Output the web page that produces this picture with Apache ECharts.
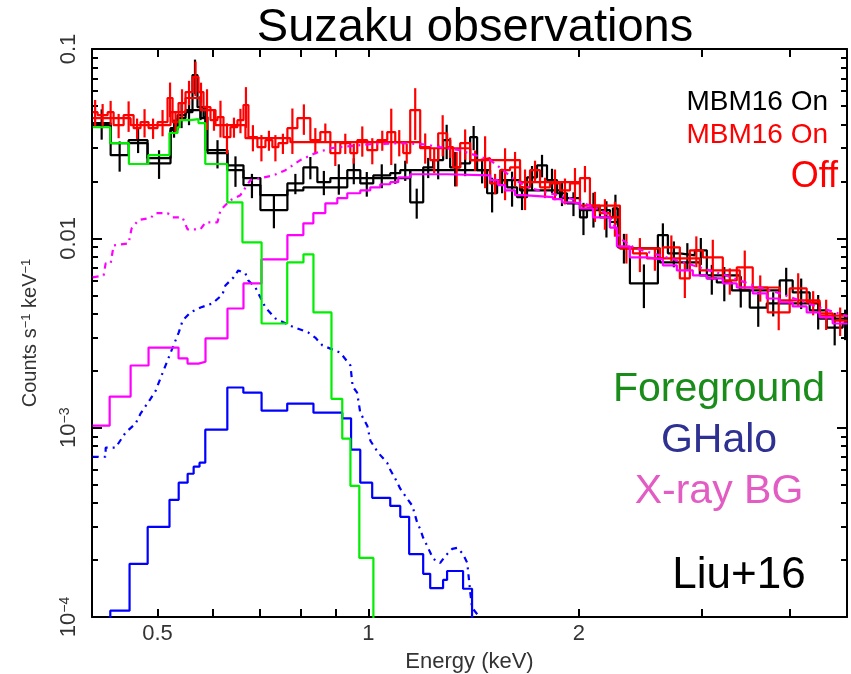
<!DOCTYPE html>
<html><head><meta charset="utf-8">
<script src="https://cdn.jsdelivr.net/npm/echarts@6/dist/echarts.min.js"></script>
<style>html,body{margin:0;padding:0;background:#fff}#c{width:851px;height:674px}</style>
</head><body><div id="c"></div>
<script>
// ---------- axes ----------
const xRange = [0.403, 4.83];
const yRange = [0.0001, 0.1];
const xTickMajor = [0.5, 1, 2];
const xTickLabels = ['0.5', '1', '2'];
const xTickMinor = [0.6, 0.7, 0.8, 0.9, 3, 4];
const yTickMajor = [0.0001, 0.001, 0.01, 0.1];
const yLabelBase = ['10', '10', '0.01', '0.1'];
const yLabelExp = ['\u22124', '\u22123', '', ''];
const yTickMinor = [0.0002,0.0003,0.0004,0.0005,0.0006,0.0007,0.0008,0.0009,
  0.002,0.003,0.004,0.005,0.006,0.007,0.008,0.009,
  0.02,0.03,0.04,0.05,0.06,0.07,0.08,0.09];

// ---------- MBM16 On (black) data ----------
const onEdges = [0.4039,0.4285,0.4546,0.4838,0.5218,0.5340,0.5482,0.5609,0.5702,0.5816,0.5893,0.6293,0.6633,0.7013,0.7664,0.8077,0.8458,0.8827,0.9333,0.9741,1.0166,1.0750,1.1109,1.1480,1.1981,1.2381,1.2794,1.3092,1.3529,1.3981,1.4306,1.4784,1.5277,1.5787,1.6314,1.6859,1.7422,1.8004,1.8605,1.9226,2.0065,2.0532,2.1428,2.2363,2.2734,2.3648,2.5927,2.6793,2.7871,2.9279,3.0456,3.1473,3.3063,3.5076,3.7091,3.8709,4.0397,4.2719,4.5177,4.7619,4.84];
const onVal = [0.0406,0.0275,0.0330,0.0249,0.0382,0.0447,0.0464,0.0728,0.0493,0.0437,0.0282,0.0229,0.0191,0.0141,0.0195,0.0237,0.0198,0.0208,0.0229,0.0195,0.0215,0.0221,0.0229,0.0155,0.0237,0.0259,0.0330,0.0237,0.0249,0.0342,0.0229,0.0173,0.0203,0.0186,0.0165,0.0210,0.0243,0.0203,0.0173,0.0153,0.0129,0.0144,0.0129,0.0144,0.00896,0.00578,0.0104,0.00833,0.00813,0.00864,0.00614,0.00585,0.00531,0.00431,0.00453,0.00599,0.00518,0.00416,0.00338,0.00355];
const onErr = [0.0074,0.0050,0.0048,0.0043,0.0042,0.0065,0.0068,0.0151,0.0072,0.0064,0.0048,0.0042,0.0028,0.0028,0.0024,0.0032,0.0029,0.0038,0.0036,0.0029,0.0031,0.0027,0.0028,0.0028,0.0029,0.0054,0.0068,0.0049,0.0036,0.0050,0.0034,0.0036,0.0030,0.0039,0.0024,0.0031,0.0033,0.0030,0.0025,0.0022,0.0025,0.0030,0.0028,0.0026,0.0016,0.0015,0.0016,0.0013,0.0013,0.0014,0.0011,0.0012,0.0010,0.0009,0.00066,0.0010,0.00095,0.00086,0.00066,0.00065];
const onModelEdges = [0.4039,0.4285,0.4838,0.5218,0.5340,0.5482,0.5759,0.5854,0.6293,0.6633,0.7013,0.7664,0.8077,0.9333,1.1480,1.4930,1.6476,1.8789,2.0065,2.2143,2.2884,2.6098,2.9763,3.3944,3.8709,4.4144,4.84];
const onModelVal = [0.0396,0.0318,0.0265,0.0373,0.0431,0.0476,0.0431,0.0292,0.0243,0.0208,0.0169,0.0179,0.0186,0.0208,0.0229,0.0203,0.0179,0.0163,0.0141,0.0122,0.00886,0.00746,0.00637,0.00531,0.00453,0.00377];

// ---------- Off (red) data ----------
const offEdges = [0.4039,0.4105,0.4243,0.4327,0.4472,0.4621,0.4728,0.4854,0.5000,0.5167,0.5253,0.5357,0.5482,0.5609,0.5721,0.5816,0.5951,0.6089,0.6211,0.6355,0.6503,0.6633,0.6742,0.6944,0.7130,0.7295,0.7441,0.7664,0.7920,0.8265,0.8541,0.8827,0.9121,0.9426,0.9645,0.9968,1.0301,1.0645,1.0928,1.1219,1.1480,1.1863,1.2260,1.2586,1.2963,1.3221,1.3529,1.3981,1.4448,1.4930,1.5428,1.5943,1.6476,1.7026,1.7595,1.8182,1.8789,1.9417,2.0065,2.0735,2.1428,2.2143,2.2884,2.3882,2.5007,2.6357,2.7871,2.8801,3.0058,3.2100,3.3611,3.5424,3.7213,4.0000,4.2300,4.4144,4.6076,4.84];
const offVal = [0.0464,0.0447,0.0464,0.0396,0.0447,0.0382,0.0411,0.0382,0.0411,0.0551,
  0.0411,0.0518,0.0592,0.0711,0.0592,0.0493,0.0421,0.0437,0.0342,0.0387,
  0.0421,0.0506,0.0342,0.0303,0.0330,0.0303,0.0318,0.0382,0.0431,0.0330,
  0.0364,0.0282,0.0318,0.0282,0.0330,0.0292,0.0330,0.0364,0.0322,0.0282,
  0.0476,0.0303,0.0259,0.0359,0.0303,0.0237,0.0318,0.0259,0.0265,0.0195,
  0.0229,0.0237,0.0186,0.0229,0.0186,0.0195,0.0179,0.0195,0.0208,0.0149,
  0.0136,0.0129,0.00896,0.00833,0.00784,0.00896,0.00614,0.00864,0.00793,0.00599,
  0.00702,0.00550,0.00406,0.00544,0.00459,0.00401,0.00368];
const offErr = [0.0074,0.0065,0.0068,0.0058,0.0082,0.0047,0.0070,0.0047,0.0065,0.0114,
  0.0050,0.0095,0.0087,0.0147,0.0072,0.0120,0.0051,0.0096,0.0063,0.0047,
  0.0062,0.0123,0.0054,0.0048,0.0040,0.0048,0.0039,0.0103,0.0079,0.0052,
  0.0040,0.0041,0.0039,0.0034,0.0060,0.0046,0.0040,0.0120,0.0051,0.0034,
  0.0145,0.0055,0.0038,0.0088,0.0037,0.0049,0.0058,0.0032,0.0081,0.0024,
  0.0070,0.0049,0.0045,0.0028,0.0023,0.0036,0.0028,0.0040,0.0033,0.0027,
  0.0025,0.0027,0.0016,0.0017,0.0011,0.0014,0.0013,0.0016,0.0019,0.00095,
  0.0016,0.00087,0.00079,0.0011,0.00067,0.00073,0.00063];
const offModelEdges = [0.4039,0.4576,0.5218,0.5482,0.5759,0.6050,0.6676,0.7740,1.1863,1.3981,1.6476,2.0065,2.2884,2.6098,2.9763,3.3944,3.8709,4.4144,4.84];
const offModelVal = [0.0431,0.0396,0.0464,0.0551,0.0476,0.0396,0.0338,0.0322,0.0299,0.0259,0.0198,0.0149,0.00886,0.00784,0.00677,0.00550,0.00470,0.00391];

// ---------- model components ----------
const fgEdges = [0.404,0.428,0.455,0.485,0.520,0.534,0.538,0.557,0.572,0.585,0.629,0.661,0.704,0.766,0.808,0.835,0.886,0.918,0.943,0.971,1.017,1.06];
const fgVal = [0.0386,0.0318,0.0247,0.0275,0.0360,0.0386,0.0421,0.0426,0.0406,0.0247,0.0155,0.00953,0.00355,0.00746,0.00823,0.00406,0.00142,0.000875,0.000493,0.000205,0.00003];

const ghaloEdges = [0.404,0.428,0.456,0.484,0.520,0.536,0.552,0.563,0.574,0.585,0.629,0.663,0.704,0.766,0.835,0.918,0.945,0.974,1.013,1.075,1.111,1.144,1.198,1.226,1.279,1.296,1.366,1.407,1.45];
const ghaloVal = [0.00005,1.08e-4,1.91e-4,2.99e-4,4.16e-4,5.12e-4,5.71e-4,6.22e-4,6.53e-4,9.76e-4,1.63e-3,1.53e-3,1.23e-3,1.34e-3,1.20e-3,1.12e-3,7.65e-4,5.12e-4,4.26e-4,3.86e-4,3.38e-4,2.15e-4,1.69e-4,1.42e-4,1.57e-4,1.75e-4,1.41e-4,0.00003];

const ghaloOffE = [0.404,0.4215,0.4215,0.4355,0.450,0.465,0.473,0.4885,0.497,0.502,0.518,0.536,0.543,0.557,0.576,0.599,0.619,0.625,0.642,0.652,0.6675,0.674,0.690,0.713,0.737,0.779,0.821,0.840,0.860,0.912,0.943,0.950,0.964,0.974,0.997,1.007,1.033,1.064,1.075,1.093,1.111,1.137,1.156,1.175,1.186,1.198,1.214,1.238,1.267,1.288,1.318,1.340,1.366,1.385,1.398,1.407,1.435,1.45];
const ghaloOffVal = [7.02e-4,7.02e-4,7.84e-4,7.84e-4,9.41e-4,1.05e-3,1.19e-3,1.42e-3,1.57e-3,1.73e-3,2.32e-3,3.18e-3,3.68e-3,4.06e-3,4.31e-3,4.53e-3,5.05e-3,5.64e-3,6.22e-3,6.77e-3,6.53e-3,5.99e-3,5.50e-3,4.31e-3,3.77e-3,3.42e-3,3.18e-3,2.99e-3,2.72e-3,2.49e-3,2.13e-3,1.65e-3,1.53e-3,1.20e-3,1.02e-3,8.53e-4,7.37e-4,6.53e-4,5.99e-4,5.37e-4,4.76e-4,4.21e-4,3.87e-4,3.14e-4,2.92e-4,2.62e-4,2.37e-4,2.03e-4,1.93e-4,2.10e-4,2.29e-4,2.32e-4,2.15e-4,1.93e-4,1.37e-4,1.12e-4,1.02e-4,5e-5];

const cxbEdges = [0.4039,0.4271,0.4576,0.4854,0.5357,0.5518,0.5721,0.5854,0.6293,0.6633,0.7037,0.7664,0.8077,0.8347,0.8683,0.9032,0.9333,0.9741,1.0066,1.0403,1.0750,1.1036,1.1480,1.2963,1.4930,1.5328,1.5684,1.6208,1.6640,1.8362,1.8913,1.9609,2.0065,2.0940,2.2143,2.2659,2.3648,2.5007,2.6357,2.7597,2.9087,3.0456,3.2100,3.3611,3.5424,3.7091,3.8709,4.0397,4.2300,4.4144,4.6076,4.84];
const cxbVal = [1.025e-3,1.459e-3,2.13e-3,2.65e-3,2.32e-3,2.18e-3,2.23e-3,2.96e-3,4.26e-3,5.78e-3,7.74e-3,0.0104,0.0120,0.0136,0.0153,0.0163,0.0173,0.0179,0.0186,0.0193,0.0198,0.0210,0.0218,0.0215,0.0203,0.0191,0.0179,0.0169,0.0165,0.0161,0.0155,0.0153,0.0144,0.0129,0.0114,0.00907,0.00793,0.00774,0.00720,0.00677,0.00637,0.00614,0.00578,0.00550,0.00512,0.00481,0.00459,0.00437,0.00406,0.00382,0.00355];

const cxbOffE = [0.4039,0.4187,0.4215,0.4285,0.4327,0.4546,0.4591,0.4697,0.4886,0.4967,0.5167,0.5253,0.5428,0.5518,0.5759,0.5854,0.6089,0.6150,0.6355,0.6567,0.6786,0.7320,0.7614,0.7998,0.8403,0.8827,0.9426,1.0066,1.1109,1.1981,1.2668,1.3529,1.4212,1.4930,1.5277,1.5684,1.6208,1.7026,1.8182,1.9417,2.0735,2.1782,2.2363,2.2884,2.4042,2.6098,2.7871,2.9763,3.1787,3.3944,3.6248,3.8709,4.1337,4.4144,4.84];
const cxbOffVal = [6.22e-3,6.37e-3,7.37e-3,7.37e-3,9.18e-3,9.41e-3,1.129e-2,0.0125,0.0128,0.0136,0.0136,0.0129,0.0129,0.01116,0.01116,0.01215,0.01215,0.0141,0.0159,0.0169,0.0203,0.0215,0.0229,0.0259,0.0282,0.0299,0.0307,0.0314,0.0318,0.0314,0.0303,0.0292,0.0275,0.0259,0.0243,0.0224,0.0203,0.0184,0.0173,0.0163,0.0149,0.0137,0.01215,0.0100,0.00886,0.00813,0.00756,0.00702,0.00653,0.00599,0.00550,0.00512,0.00470,0.00431,0.00387];

// ---------- helpers ----------
const FONT = 'Liberation Sans, Arial, Helvetica, sans-serif';
function stepData(edges, vals) {
  const d = vals.map((v, i) => [edges[i], v]);
  d.push([edges[edges.length - 1], vals[vals.length - 1]]);
  return d;
}
function pairs(xs, ys) { return xs.map((x, i) => [x, ys[i]]); }
function errData(edges, vals, errs) { return vals.map((v, i) => [edges[i], edges[i + 1], v, errs[i]]); }
function findIdx(arr, v) {
  for (let i = 0; i < arr.length; i++) if (Math.abs(Math.log(v / arr[i])) < 1e-6) return i;
  return -1;
}
function errRender(color) {
  return function (params, api) {
    const lo = api.value(0), hi = api.value(1), v = api.value(2), e = api.value(3);
    const pL = api.coord([lo, v]), pR = api.coord([hi, v]);
    const xm = (pL[0] + pR[0]) / 2;
    const top = api.coord([lo, v + e])[1];
    const bot = api.coord([lo, Math.max(v - e, 1e-7)])[1];
    return { type: 'line', shape: { x1: xm, y1: top, x2: xm, y2: bot },
      style: { stroke: color, lineWidth: 2.2 } };
  };
}
function stepSeries(name, data, color, z, dash) {
  return { name, type: 'line', step: 'end', data, showSymbol: false, symbol: 'none',
    xAxisIndex: 0, yAxisIndex: 0, clip: true, z,
    lineStyle: { color, width: 2.2, type: dash || 'solid' }, animation: false };
}
function errSeries(name, data, color, z) {
  return { name, type: 'custom', data, renderItem: errRender(color), clip: true,
    xAxisIndex: 0, yAxisIndex: 0, encode: { x: [0, 1], y: [2] }, z, animation: false };
}

const axisLineStyle = { color: '#000', width: 2 };
function xAxisCfg(pos, withLabels) {
  return {
    type: 'log', logBase: 10, min: xRange[0], max: xRange[1], position: pos,
    axisLine: { show: true, onZero: false, lineStyle: axisLineStyle },
    axisTick: { show: true, inside: true, length: 8, customValues: xTickMajor.concat(xTickMinor),
      lineStyle: { color: '#000', width: 2 } },
    axisLabel: withLabels ? { show: true, customValues: xTickMajor, margin: 6, fontSize: 22,
      color: '#333', fontFamily: FONT,
      formatter: v => { const i = findIdx(xTickMajor, v); return i >= 0 ? xTickLabels[i] : ''; } } : { show: false },
    splitLine: { show: false }, minorTick: { show: false }, minorSplitLine: { show: false },
    name: withLabels ? 'Energy (keV)' : '', nameLocation: 'middle', nameGap: 34,
    nameTextStyle: { fontSize: 22, color: '#333', fontFamily: FONT }
  };
}
function yAxisCfg(pos, ticks, len, withLabels, showLine) {
  const cfg = {
    type: 'log', logBase: 10, min: yRange[0], max: yRange[1], position: pos,
    axisLine: { show: showLine, onZero: false, lineStyle: axisLineStyle },
    axisTick: { show: true, inside: true, length: len, customValues: ticks,
      lineStyle: { color: '#000', width: 2 } },
    axisLabel: { show: false },
    splitLine: { show: false }, minorTick: { show: false }, minorSplitLine: { show: false }
  };
  if (withLabels) {
    cfg.axisLabel = {
      show: true, customValues: yTickMajor, rotate: 90, margin: 12, color: '#333',
      fontFamily: FONT, fontSize: 22,
      formatter: v => {
        const i = findIdx(yTickMajor, v);
        if (i < 0) return '';
        return yLabelExp[i] ? '{b|' + yLabelBase[i] + '}{e|' + yLabelExp[i] + '}' : '{b|' + yLabelBase[i] + '}';
      },
      rich: {
        b: { fontSize: 22, fontFamily: FONT, color: '#333' },
        e: { fontSize: 14, fontFamily: FONT, color: '#333', verticalAlign: 'top' }
      }
    };
    cfg.name = '{n|Counts s}{s|\u22121}{n| keV}{s|\u22121}';
    cfg.nameLocation = 'middle';
    cfg.nameGap = 52;
    cfg.nameTextStyle = {
      color: '#333', fontFamily: FONT,
      rich: {
        n: { fontSize: 20, fontFamily: FONT, color: '#333' },
        s: { fontSize: 13, fontFamily: FONT, color: '#333', verticalAlign: 'top' }
      }
    };
  }
  return cfg;
}

const chart = echarts.init(document.getElementById('c'), null, { renderer: 'canvas' });
chart.setOption({
  animation: false,
  backgroundColor: '#fff',
  grid: { left: 92, right: 4, top: 49, bottom: 57, containLabel: false, outerBoundsMode: 'none' },
  xAxis: [xAxisCfg('bottom', true), xAxisCfg('top', false)],
  yAxis: [
    yAxisCfg('left', yTickMajor, 10, true, true),
    yAxisCfg('left', yTickMinor, 6, false, false),
    yAxisCfg('right', yTickMajor, 10, false, true),
    yAxisCfg('right', yTickMinor, 6, false, false)
  ],
  series: [
    stepSeries('On model', stepData(onModelEdges, onModelVal), '#000', 2),
    stepSeries('On data', stepData(onEdges, onVal), '#000', 3),
    errSeries('On err', errData(onEdges, onVal, onErr), '#000', 3),
    stepSeries('Off model', stepData(offModelEdges, offModelVal), '#ff0000', 4),
    stepSeries('Off data', stepData(offEdges, offVal), '#ff0000', 5),
    errSeries('Off err', errData(offEdges, offVal, offErr), '#ff0000', 5),
    { name: 'X-ray BG off', type: 'line', data: pairs(cxbOffE, cxbOffVal), showSymbol: false, symbol: 'none', clip: true, z: 6,
      lineStyle: { color: '#ff00ff', width: 2.2, type: [6, 5, 2, 5] }, animation: false },
    { name: 'GHalo off', type: 'line', data: pairs(ghaloOffE, ghaloOffVal), showSymbol: false, symbol: 'none', clip: true, z: 6,
      lineStyle: { color: '#0000ff', width: 2.2, type: [6, 5, 2, 5] }, animation: false },
    stepSeries('X-ray BG', stepData(cxbEdges, cxbVal), '#ff00ff', 7),
    stepSeries('GHalo', stepData(ghaloEdges, ghaloVal), '#0000ff', 7),
    stepSeries('Foreground', stepData(fgEdges, fgVal), '#00ee00', 8)
  ],
  graphic: [
    { type: 'text', x: 475, y: 28, style: { text: 'Suzaku observations', fontSize: 47, fontFamily: FONT, fill: '#000', textAlign: 'center', textVerticalAlign: 'middle' } },
    { type: 'text', x: 828, y: 102, style: { text: 'MBM16 On', fontSize: 28, fontFamily: FONT, fill: '#000', textAlign: 'right', textVerticalAlign: 'middle' } },
    { type: 'text', x: 828, y: 135, style: { text: 'MBM16 On', fontSize: 28, fontFamily: FONT, fill: '#ff0000', textAlign: 'right', textVerticalAlign: 'middle' } },
    { type: 'text', x: 838, y: 177, style: { text: 'Off', fontSize: 36, fontFamily: FONT, fill: '#ff0000', textAlign: 'right', textVerticalAlign: 'middle' } },
    { type: 'text', x: 719, y: 390, style: { text: 'Foreground', fontSize: 41, fontFamily: FONT, fill: '#1a8c1a', textAlign: 'center', textVerticalAlign: 'middle' } },
    { type: 'text', x: 719, y: 441, style: { text: 'GHalo', fontSize: 41, fontFamily: FONT, fill: '#2e3192', textAlign: 'center', textVerticalAlign: 'middle' } },
    { type: 'text', x: 719, y: 492, style: { text: 'X-ray BG', fontSize: 41, fontFamily: FONT, fill: '#e25cc4', textAlign: 'center', textVerticalAlign: 'middle' } },
    { type: 'text', x: 739, y: 576, style: { text: 'Liu+16', fontSize: 44, fontFamily: FONT, fill: '#000', textAlign: 'center', textVerticalAlign: 'middle' } }
  ]
});
</script></body></html>
